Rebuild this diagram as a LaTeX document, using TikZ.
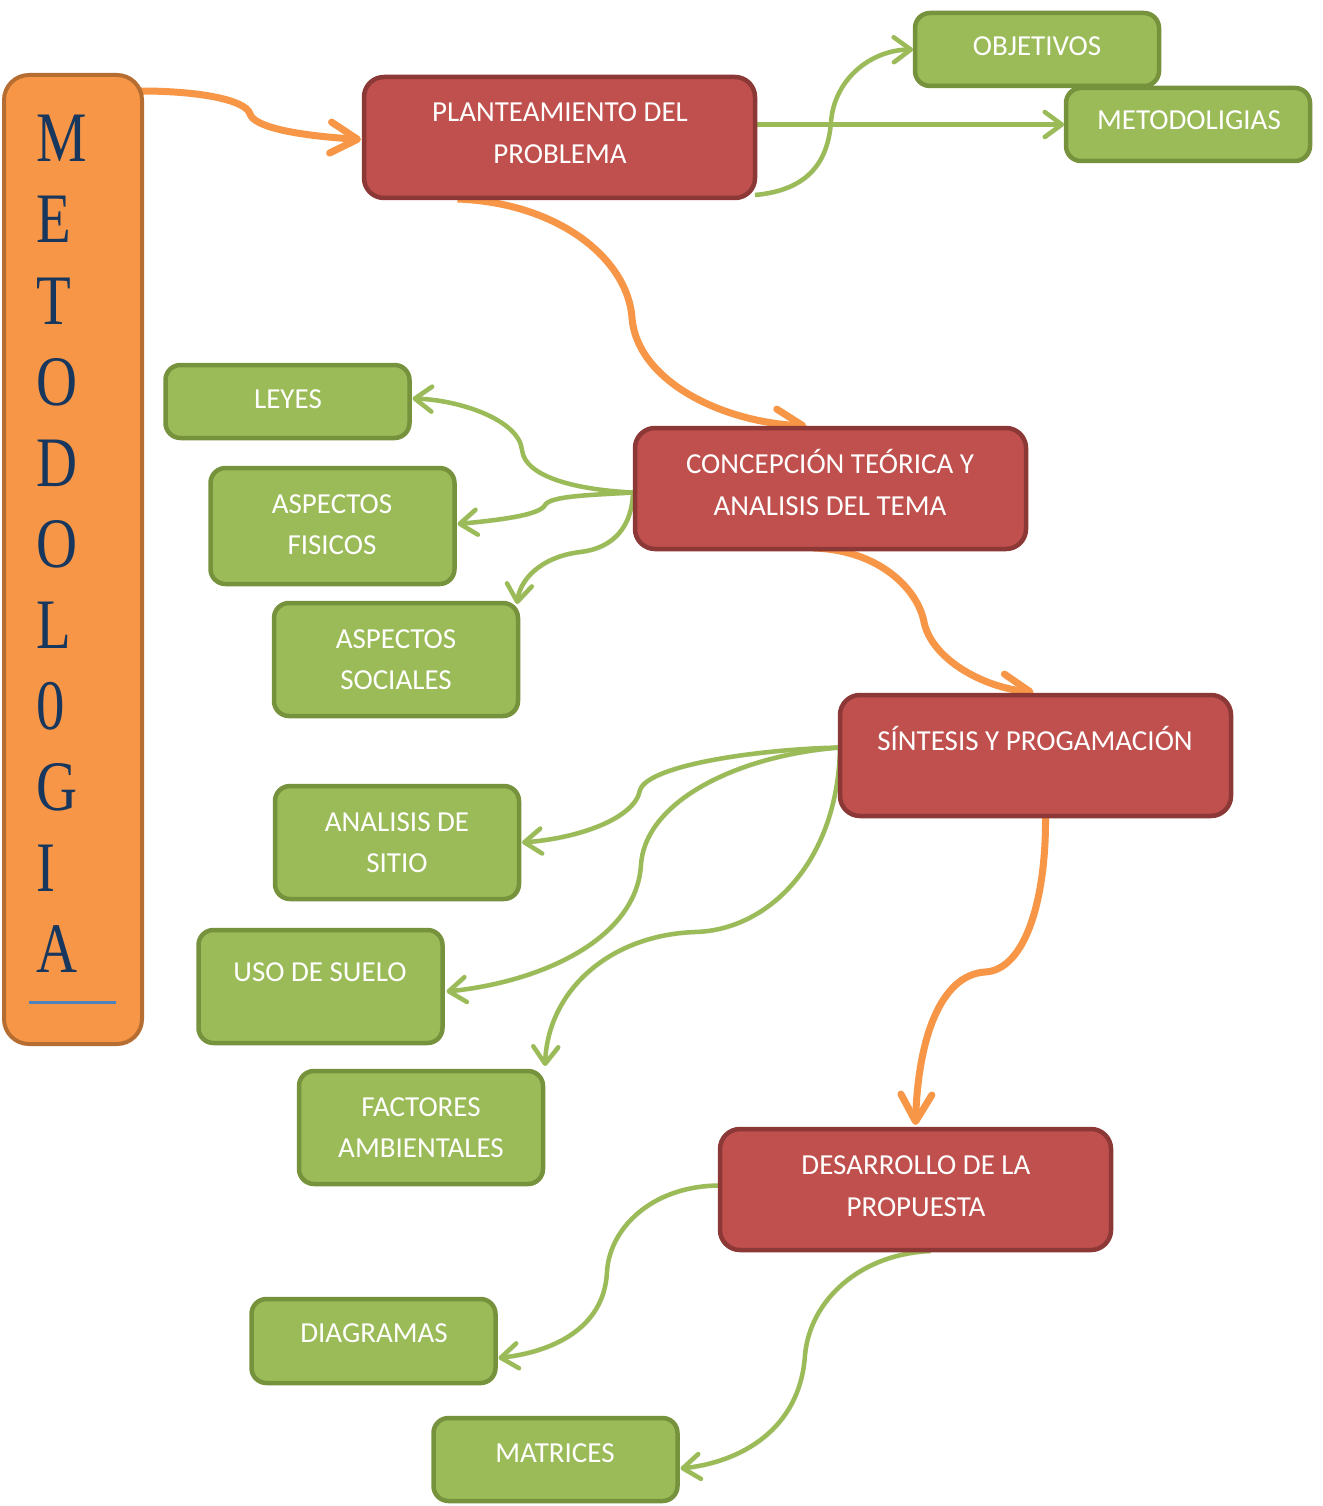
\documentclass[tikz,border=0pt]{standalone}
\usepackage{fontspec}
\setmainfont{Carlito}
\newfontfamily\spinefont[FakeStretch=0.8]{Liberation Serif}
\usetikzlibrary{arrows.meta,calc,backgrounds}

\definecolor{redfill}{HTML}{C0504D}
\definecolor{redline}{HTML}{8C3836}
\definecolor{greenfill}{HTML}{9BBB59}
\definecolor{greenline}{HTML}{76923C}
\definecolor{orangefill}{HTML}{F79646}
\definecolor{orangeline}{HTML}{B66D31}
\definecolor{spineink}{HTML}{17375E}
\definecolor{spinerule}{HTML}{4F81BD}

\tikzset{
  redbox/.style={draw=redline, fill=redfill, line width=4.5pt, rounded corners=20pt,
    minimum width=391pt, minimum height=121pt, inner sep=0pt, outer sep=0pt},
  greenbox/.style={draw=greenline, fill=greenfill, line width=4.5pt, rounded corners=15pt,
    minimum width=244pt, inner sep=0pt, outer sep=0pt},
  lbl/.style={text=white, font=\fontsize{29}{41}\selectfont, anchor=base, inner sep=0pt},
  spine/.style={text=spineink, font=\spinefont\fontsize{71}{71}\selectfont,
    anchor=base west, inner sep=0pt},
  softshadow/.style={preaction={draw=black, opacity=0.1,
    transform canvas={shift={(1.5pt,-2pt)}}}},
  glink/.style={softshadow, draw=greenfill, line width=4.5pt,
    -{Straight Barb[length=17pt,width=25pt,round]}},
  olink/.style={softshadow, draw=orangefill, line width=7pt,
    -{Straight Barb[length=27pt,width=31pt,round]}},
}

\begin{document}
\begin{tikzpicture}[x=1pt,y=-1pt]
  \useasboundingbox (0,0) rectangle (1322,1506);

  % vertical title bar
  \node[draw=orangeline, fill=orangefill, line width=4pt, rounded corners=25pt,
        minimum width=138pt, minimum height=969pt, inner sep=0pt, outer sep=0pt]
        (meta) at (73,559.5) {};
  \foreach \ch [count=\i] in {M,E,T,O,D,O,L,0,G,I,A}
    \node[spine] (sp\i) at (36,{81+81*\i}) {\ch};
  \draw[spinerule, line width=3pt] (29,1002) -- (116,1002);

  % main stages
  \node[redbox] (plan) at (559.5,137.5) {};
  \node[lbl] (plan-a) at (560,122) {PLANTEAMIENTO DEL};
  \node[lbl] (plan-b) at (560,164) {PROBLEMA};

  \node[redbox] (conc) at (830.5,488.5) {};
  \node[lbl] (conc-a) at (830,473) {CONCEPCIÓN TEÓRICA Y};
  \node[lbl] (conc-b) at (830,515) {ANALISIS DEL TEMA};

  \node[redbox] (sint) at (1035.5,755.5) {};
  \node[lbl] (sint-a) at (1035,750) {SÍNTESIS Y PROGAMACIÓN};

  \node[redbox] (dev) at (915.5,1189.5) {};
  \node[lbl] (dev-a) at (916,1174) {DESARROLLO DE LA};
  \node[lbl] (dev-b) at (916,1216) {PROPUESTA};

  % detail boxes
  \node[greenbox, minimum height=73pt] (obj) at (1037,49.5) {};
  \node[lbl] (obj-a) at (1037,56) {OBJETIVOS};

  \node[greenbox, minimum height=73pt] (metod) at (1188,124.5) {};
  \node[lbl] (metod-a) at (1189,130) {METODOLIGIAS};

  \node[greenbox, minimum height=73pt] (leyes) at (287.5,401.5) {};
  \node[lbl] (leyes-a) at (288,408) {LEYES};

  \node[greenbox, minimum height=116pt] (fis) at (332.5,526) {};
  \node[lbl] (fis-a) at (332,513) {ASPECTOS};
  \node[lbl] (fis-b) at (332,554) {FISICOS};

  \node[greenbox, minimum height=113pt] (soc) at (396,659.5) {};
  \node[lbl] (soc-a) at (396,648) {ASPECTOS};
  \node[lbl] (soc-b) at (396,689) {SOCIALES};

  \node[greenbox, minimum height=113pt] (anal) at (397,842.5) {};
  \node[lbl] (anal-a) at (397,831) {ANALISIS DE};
  \node[lbl] (anal-b) at (397,872) {SITIO};

  \node[greenbox, minimum height=113pt] (uso) at (320.5,986.5) {};
  \node[lbl] (uso-a) at (320,981) {USO DE SUELO};

  \node[greenbox, minimum height=113pt] (fac) at (421,1127.5) {};
  \node[lbl] (fac-a) at (421,1116) {FACTORES};
  \node[lbl] (fac-b) at (421,1157) {AMBIENTALES};

  \node[greenbox, minimum height=84pt] (diag) at (373.5,1341) {};
  \node[lbl] (diag-a) at (374,1342) {DIAGRAMAS};

  \node[greenbox, minimum height=83pt] (mat) at (555.5,1459.5) {};
  \node[lbl] (mat-a) at (555,1462) {MATRICES};

  % connectors, kept behind the boxes
  \begin{pgfonlayer}{background}
    \fill[white] (0,0) rectangle (1322,1506);

    % stage to stage
    \draw[olink] ($(meta.north east)+(-1,16)$)
      .. controls (200,91) and (246,100) .. (250,114)
      .. controls (254,126) and (290,135) .. ($(plan.west)+(-3,2)$);
    \draw[olink] ($(plan.south)+(-102,1)$)
      .. controls (560,203) and (628,260) .. (632,318)
      .. controls (637,380) and (720,422) .. ($(conc.north)+(-24,-2)$);
    \draw[olink] ($(conc.south)+(-17,-1)$)
      .. controls (880,550) and (918,590) .. (924,622)
      .. controls (932,660) and (985,688) .. ($(sint.north)+(-2,-3)$);
    \draw[olink] ($(sint.south)+(10,2)$)
      .. controls (1046,900) and (1025,970) .. (985,972)
      .. controls (940,975) and (918,1040) .. ($(dev.north)+(0,-4)$);

    % planteamiento
    \draw[glink] ($(plan.south east)+(0,-3)$)
      .. controls (810,190) and (828,160) .. (831,122)
      .. controls (834,80) and (870,50) .. ($(obj.west)+(-2,0)$);
    \draw[glink] (plan.east |- metod.west) -- ($(metod.west)+(-2,0)$);

    % concepcion
    \draw[glink] ($(conc.west)+(-2,4)$)
      .. controls (580,490) and (525,478) .. (522,450)
      .. controls (519,420) and (460,400) .. ($(leyes.east)+(3,-3)$);
    \draw[glink] ($(conc.west)+(-2,4)$)
      .. controls (590,495) and (550,496) .. (545,505)
      .. controls (540,515) and (500,520) .. ($(fis.east)+(3,-2)$);
    \draw[glink] ($(conc.west)+(-2,4)$)
      .. controls (632,525) and (615,548) .. (580,552)
      .. controls (540,557) and (520,580) .. ($(soc.north east)+(-1,1)$);

    % sintesis
    \draw[glink] ($(sint.west)+(0,-8)$)
      .. controls (760,749) and (648,765) .. (640,790)
      .. controls (635,818) and (580,838) .. ($(anal.east)+(3,0)$);
    \draw[glink] ($(sint.west)+(0,-8)$)
      .. controls (740,755) and (645,800) .. (641,865)
      .. controls (636,940) and (540,982) .. ($(uso.east)+(4,5)$);
    \draw[glink] ($(sint.west)+(0,-8)$)
      .. controls (838,860) and (770,930) .. (695,932)
      .. controls (610,935) and (548,990) .. ($(fac.north east)+(2,-5)$);

    % desarrollo
    \draw[glink] ($(dev.west)+(-1,-4)$)
      .. controls (650,1186) and (609,1230) .. (607,1272)
      .. controls (604,1330) and (550,1352) .. ($(diag.east)+(3,17)$);
    \draw[glink] ($(dev.south)+(15,1)$)
      .. controls (860,1254) and (810,1300) .. (805,1355)
      .. controls (800,1430) and (740,1462) .. ($(mat.east)+(3,9)$);
  \end{pgfonlayer}
\end{tikzpicture}
\end{document}
